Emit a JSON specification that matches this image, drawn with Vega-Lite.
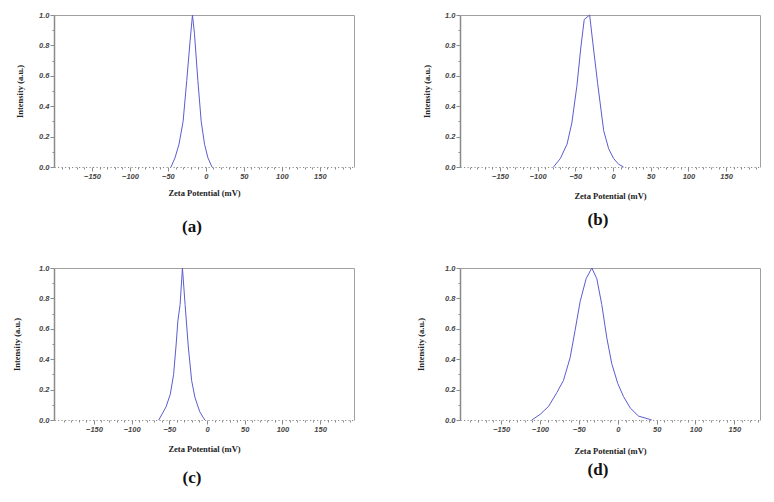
{
  "$schema": "https://vega.github.io/schema/vega-lite/v6.json",
  "background": "white",
  "padding": {"left": 12, "top": 11, "right": 5, "bottom": 5},
  "datasets": {
    "a": [
      {"zeta": -46, "intensity": 0},
      {"zeta": -40.7, "intensity": 0.06},
      {"zeta": -35.4, "intensity": 0.15},
      {"zeta": -30, "intensity": 0.3},
      {"zeta": -25.2, "intensity": 0.57},
      {"zeta": -20.8, "intensity": 0.83},
      {"zeta": -17.7, "intensity": 1.0},
      {"zeta": -15.1, "intensity": 0.88},
      {"zeta": -10.6, "intensity": 0.57},
      {"zeta": -6.2, "intensity": 0.3},
      {"zeta": -1.8, "intensity": 0.15},
      {"zeta": 2.7, "intensity": 0.06},
      {"zeta": 8, "intensity": 0}
    ],
    "b": [
      {"zeta": -79, "intensity": 0},
      {"zeta": -70, "intensity": 0.055},
      {"zeta": -61, "intensity": 0.15},
      {"zeta": -54.6, "intensity": 0.29},
      {"zeta": -48, "intensity": 0.53},
      {"zeta": -42.6, "intensity": 0.79},
      {"zeta": -38.2, "intensity": 0.97},
      {"zeta": -31, "intensity": 1.0},
      {"zeta": -26.6, "intensity": 0.81},
      {"zeta": -20.4, "intensity": 0.55},
      {"zeta": -12.4, "intensity": 0.24},
      {"zeta": -5.8, "intensity": 0.12},
      {"zeta": 0.9, "intensity": 0.055},
      {"zeta": 7.5, "intensity": 0.018},
      {"zeta": 14, "intensity": 0}
    ],
    "c": [
      {"zeta": -64, "intensity": 0},
      {"zeta": -54.3, "intensity": 0.087},
      {"zeta": -48.7, "intensity": 0.17},
      {"zeta": -44.3, "intensity": 0.3},
      {"zeta": -40.9, "intensity": 0.5},
      {"zeta": -38.7, "intensity": 0.65},
      {"zeta": -35.7, "intensity": 0.76},
      {"zeta": -32.6, "intensity": 1.0},
      {"zeta": -29.1, "intensity": 0.76},
      {"zeta": -24.8, "intensity": 0.48},
      {"zeta": -20.4, "intensity": 0.26},
      {"zeta": -16.1, "intensity": 0.15},
      {"zeta": -9.6, "intensity": 0.054},
      {"zeta": -3, "intensity": 0}
    ],
    "d": [
      {"zeta": -110.6, "intensity": 0},
      {"zeta": -99.9, "intensity": 0.037},
      {"zeta": -89, "intensity": 0.09},
      {"zeta": -78.4, "intensity": 0.18},
      {"zeta": -69.9, "intensity": 0.26},
      {"zeta": -61.3, "intensity": 0.41},
      {"zeta": -54.9, "intensity": 0.59},
      {"zeta": -48.4, "intensity": 0.78},
      {"zeta": -40.7, "intensity": 0.93},
      {"zeta": -33.4, "intensity": 1.0},
      {"zeta": -27, "intensity": 0.93},
      {"zeta": -20.6, "intensity": 0.76},
      {"zeta": -14.1, "intensity": 0.54},
      {"zeta": -7.7, "intensity": 0.37},
      {"zeta": 0, "intensity": 0.24},
      {"zeta": 7.3, "intensity": 0.155},
      {"zeta": 15.9, "intensity": 0.08},
      {"zeta": 26.6, "intensity": 0.026},
      {"zeta": 43.7, "intensity": 0}
    ]
  },
  "columns": 2,
  "bounds": "flush",
  "spacing": {"column": 106, "row": 101},
  "config": {
    "view": {"stroke": null},
    "title": {"orient": "bottom", "font": "Liberation Serif", "fontSize": 17, "fontWeight": "bold", "color": "#111", "anchor": "middle", "frame": "group", "dx": -12},
    "axis": {
      "domainColor": "#8a8a8a",
      "tickColor": "#8a8a8a",
      "labelFont": "Liberation Sans",
      "labelFontStyle": "italic",
      "labelFontWeight": "bold",
      "labelFontSize": 7.5,
      "labelColor": "#444",
      "titleFont": "Liberation Serif",
      "titleFontWeight": "bold",
      "titleFontSize": 8.5,
      "titleColor": "#222",
      "grid": false
    },
    "line": {"color": "#5c5ccf", "strokeWidth": 1}
  },
  "concat": [
    {
      "width": 300, "height": 152,
      "data": {"name": "a"},
      "title": {"text": "(a)", "offset": 22},
      "layer": [
        {"mark": "line",
         "encoding": {
           "x": {"field": "zeta", "type": "quantitative", "scale": {"domain": [-200, 195], "nice": false, "zero": false},
                 "axis": {"orient": "bottom", "title": "Zeta Potential (mV)", "values": [-190,-180,-170,-160,-150,-140,-130,-120,-110,-100,-90,-80,-70,-60,-50,-40,-30,-20,-10,0,10,20,30,40,50,60,70,80,90,100,110,120,130,140,150,160,170,180,190],
                          "labelExpr": "datum.value % 50 === 0 ? datum.label : ''", "tickSize": {"condition": {"test": "datum.value % 50 === 0", "value": 4}, "value": 2},
                          "domainDash": [1.2, 2.3], "labelPadding": 1, "titlePadding": 9, "labelFlush": false}},
           "y": {"field": "intensity", "type": "quantitative", "scale": {"domain": [0, 1], "nice": false},
                 "axis": {"orient": "left", "title": "Intensity (a.u.)", "values": [0,0.1,0.2,0.3,0.4,0.5,0.6,0.7,0.8,0.9,1.0],
                          "labelExpr": "round(datum.value*10) % 2 === 0 ? format(datum.value, '.1f') : ''", "tickSize": {"condition": {"test": "round(datum.value*10) % 2 === 0", "value": 4}, "value": 2},
                          "domainWidth": 1.5, "labelPadding": 1, "titlePadding": 14, "labelFlush": false}}
         }},
        {"mark": {"type": "line", "strokeOpacity": 0},
         "encoding": {
           "x": {"field": "zeta", "type": "quantitative", "axis": {"orient": "top", "labels": false, "ticks": false, "title": null, "domainColor": "#a0a0a0"}},
           "y": {"field": "intensity", "type": "quantitative", "axis": {"orient": "right", "labels": false, "ticks": false, "title": null, "domainColor": "#a0a0a0"}}
         }}
      ],
      "resolve": {"axis": {"x": "independent", "y": "independent"}}
    },
    {
      "width": 300, "height": 152,
      "data": {"name": "b"},
      "title": {"text": "(b)", "offset": 12},
      "layer": [
        {"mark": "line",
         "encoding": {
           "x": {"field": "zeta", "type": "quantitative", "scale": {"domain": [-203, 195], "nice": false, "zero": false},
                 "axis": {"orient": "bottom", "title": "Zeta Potential (mV)", "values": [-190,-180,-170,-160,-150,-140,-130,-120,-110,-100,-90,-80,-70,-60,-50,-40,-30,-20,-10,0,10,20,30,40,50,60,70,80,90,100,110,120,130,140,150,160,170,180,190],
                          "labelExpr": "datum.value % 50 === 0 ? datum.label : ''", "tickSize": {"condition": {"test": "datum.value % 50 === 0", "value": 4}, "value": 2},
                          "domainDash": [1.2, 2.3], "labelPadding": 1, "titlePadding": 12, "labelFlush": false}},
           "y": {"field": "intensity", "type": "quantitative", "scale": {"domain": [0, 1], "nice": false},
                 "axis": {"orient": "left", "title": "Intensity (a.u.)", "values": [0,0.1,0.2,0.3,0.4,0.5,0.6,0.7,0.8,0.9,1.0],
                          "labelExpr": "round(datum.value*10) % 2 === 0 ? format(datum.value, '.1f') : ''", "tickSize": {"condition": {"test": "round(datum.value*10) % 2 === 0", "value": 4}, "value": 2},
                          "domainWidth": 1.5, "labelPadding": 1, "titlePadding": 13, "labelFlush": false}}
         }},
        {"mark": {"type": "line", "strokeOpacity": 0},
         "encoding": {
           "x": {"field": "zeta", "type": "quantitative", "axis": {"orient": "top", "labels": false, "ticks": false, "title": null, "domainColor": "#a0a0a0"}},
           "y": {"field": "intensity", "type": "quantitative", "axis": {"orient": "right", "labels": false, "ticks": false, "title": null, "domainColor": "#a0a0a0"}}
         }}
      ],
      "resolve": {"axis": {"x": "independent", "y": "independent"}}
    },
    {
      "width": 300, "height": 152,
      "data": {"name": "c"},
      "title": {"text": "(c)", "offset": 17},
      "layer": [
        {"mark": "line",
         "encoding": {
           "x": {"field": "zeta", "type": "quantitative", "scale": {"domain": [-203, 195], "nice": false, "zero": false},
                 "axis": {"orient": "bottom", "title": "Zeta Potential (mV)", "values": [-190,-180,-170,-160,-150,-140,-130,-120,-110,-100,-90,-80,-70,-60,-50,-40,-30,-20,-10,0,10,20,30,40,50,60,70,80,90,100,110,120,130,140,150,160,170,180,190],
                          "labelExpr": "datum.value % 50 === 0 ? datum.label : ''", "tickSize": {"condition": {"test": "datum.value % 50 === 0", "value": 4}, "value": 2},
                          "domainDash": [1.2, 2.3], "labelPadding": 1, "titlePadding": 12, "labelFlush": false}},
           "y": {"field": "intensity", "type": "quantitative", "scale": {"domain": [0, 1], "nice": false},
                 "axis": {"orient": "left", "title": "Intensity (a.u.)", "values": [0,0.1,0.2,0.3,0.4,0.5,0.6,0.7,0.8,0.9,1.0],
                          "labelExpr": "round(datum.value*10) % 2 === 0 ? format(datum.value, '.1f') : ''", "tickSize": {"condition": {"test": "round(datum.value*10) % 2 === 0", "value": 4}, "value": 2},
                          "domainWidth": 1.5, "labelPadding": 1, "titlePadding": 17, "labelFlush": false}}
         }},
        {"mark": {"type": "line", "strokeOpacity": 0},
         "encoding": {
           "x": {"field": "zeta", "type": "quantitative", "axis": {"orient": "top", "labels": false, "ticks": false, "title": null, "domainColor": "#a0a0a0"}},
           "y": {"field": "intensity", "type": "quantitative", "axis": {"orient": "right", "labels": false, "ticks": false, "title": null, "domainColor": "#a0a0a0"}}
         }}
      ],
      "resolve": {"axis": {"x": "independent", "y": "independent"}}
    },
    {
      "width": 300, "height": 152,
      "data": {"name": "d"},
      "title": {"text": "(d)", "offset": 7},
      "layer": [
        {"mark": "line",
         "encoding": {
           "x": {"field": "zeta", "type": "quantitative", "scale": {"domain": [-203, 183], "nice": false, "zero": false},
                 "axis": {"orient": "bottom", "title": "Zeta Potential (mV)", "values": [-190,-180,-170,-160,-150,-140,-130,-120,-110,-100,-90,-80,-70,-60,-50,-40,-30,-20,-10,0,10,20,30,40,50,60,70,80,90,100,110,120,130,140,150,160,170,180],
                          "labelExpr": "datum.value % 50 === 0 ? datum.label : ''", "tickSize": {"condition": {"test": "datum.value % 50 === 0", "value": 4}, "value": 2},
                          "domainDash": [1.2, 2.3], "labelPadding": 1, "titlePadding": 14, "labelFlush": false}},
           "y": {"field": "intensity", "type": "quantitative", "scale": {"domain": [0, 1], "nice": false},
                 "axis": {"orient": "left", "title": "Intensity (a.u.)", "values": [0,0.1,0.2,0.3,0.4,0.5,0.6,0.7,0.8,0.9,1.0],
                          "labelExpr": "round(datum.value*10) % 2 === 0 ? format(datum.value, '.1f') : ''", "tickSize": {"condition": {"test": "round(datum.value*10) % 2 === 0", "value": 4}, "value": 2},
                          "domainWidth": 1.5, "labelPadding": 1, "titlePadding": 19, "labelFlush": false}}
         }},
        {"mark": {"type": "line", "strokeOpacity": 0},
         "encoding": {
           "x": {"field": "zeta", "type": "quantitative", "axis": {"orient": "top", "labels": false, "ticks": false, "title": null, "domainColor": "#a0a0a0"}},
           "y": {"field": "intensity", "type": "quantitative", "axis": {"orient": "right", "labels": false, "ticks": false, "title": null, "domainColor": "#a0a0a0"}}
         }}
      ],
      "resolve": {"axis": {"x": "independent", "y": "independent"}}
    }
  ]
}
